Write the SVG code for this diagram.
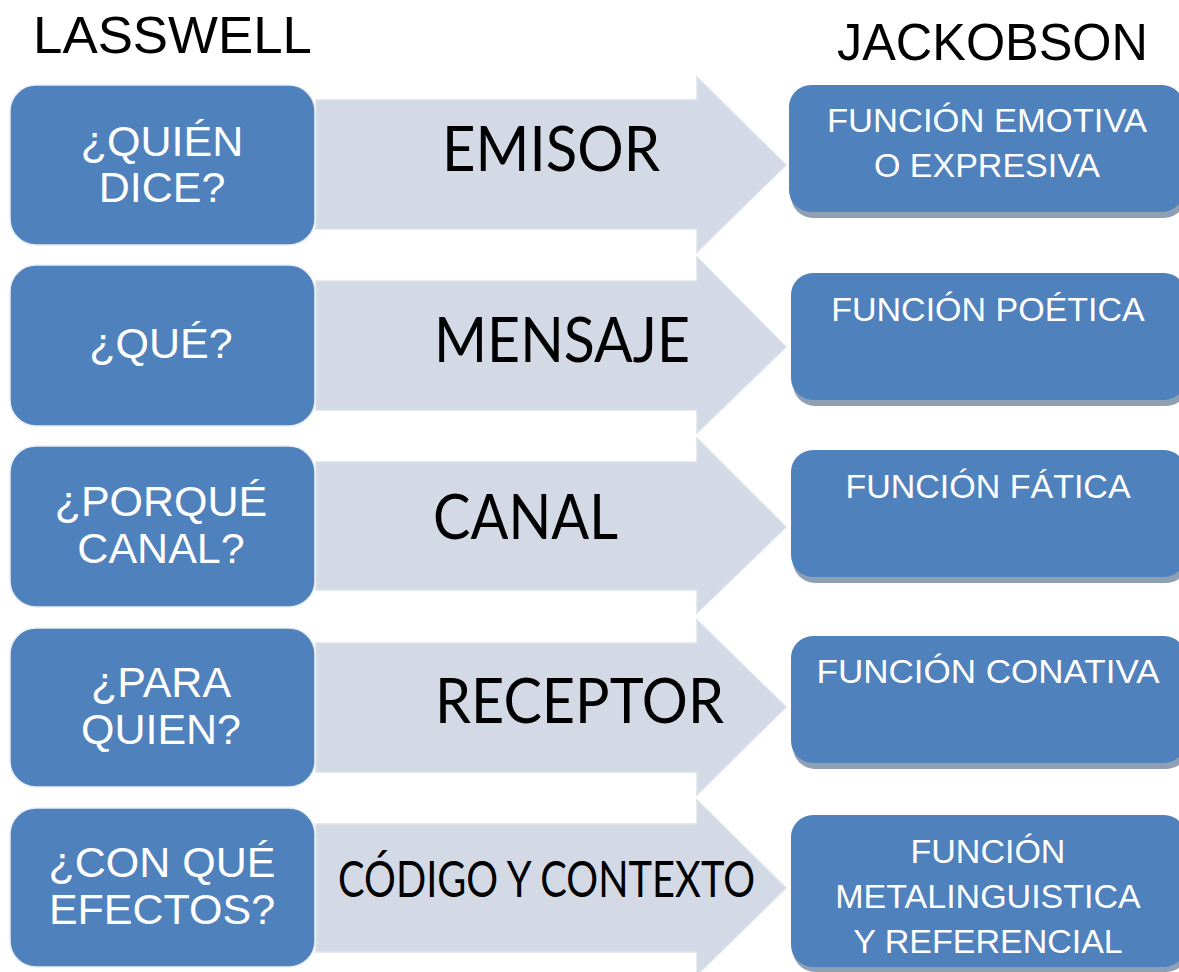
<svg xmlns="http://www.w3.org/2000/svg" width="1179" height="972" viewBox="0 0 1179 972">
<style>
.bg{fill:#ffffff}
.lbox{fill:#4F81BD;stroke:#e8eef6;stroke-width:1.5}
.rbox{fill:#4F81BD}
.shadow{fill:#8FA0B5}
.arrow{fill:#D3DAE6;stroke:#DCE2EC;stroke-width:1.5}
.title{font-family:"Liberation Sans",Arial,sans-serif;font-size:52px;fill:#000}
.ltxt{font-family:"Liberation Sans",Arial,sans-serif;font-size:43px;fill:#fff;text-anchor:middle}
.rtxt{font-family:"Liberation Sans",Arial,sans-serif;font-size:34px;fill:#fff;text-anchor:middle}
.atxt{font-family:Lato,"Open Sans",sans-serif;font-size:61px;fill:#000}
.atxt2{font-family:Lato,"Open Sans",sans-serif;font-size:50px;fill:#000}
</style>
<rect class="bg" x="0" y="0" width="1179" height="972"/>

<g id="titles">
<text class="title" x="33" y="53" textLength="279" lengthAdjust="spacingAndGlyphs">LASSWELL</text>
<text class="title" x="837" y="60" textLength="311" lengthAdjust="spacingAndGlyphs">JACKOBSON</text>
</g>

<g id="connectors">
<path class="arrow" d="M316,100 H697 V77 L786,165 L697,252 V229 H316 Z"/>
<path class="arrow" d="M316,281 H697 V257 L786,347 L697,433 V410 H316 Z"/>
<path class="arrow" d="M316,462 H697 V438 L786,527 L697,613 V590 H316 Z"/>
<path class="arrow" d="M316,643 H697 V620 L786,707 L697,795 V772 H316 Z"/>
<path class="arrow" d="M316,824 H697 V800 L786,888 L697,975 V952 H316 Z"/>
<text class="atxt" x="442" y="171" textLength="218" lengthAdjust="spacingAndGlyphs">EMISOR</text>
<text class="atxt" x="434" y="362" textLength="256" lengthAdjust="spacingAndGlyphs">MENSAJE</text>
<text class="atxt" x="433" y="539" textLength="185" lengthAdjust="spacingAndGlyphs">CANAL</text>
<text class="atxt" x="435" y="723" textLength="289" lengthAdjust="spacingAndGlyphs">RECEPTOR</text>
<text class="atxt2" x="338" y="897" textLength="417" lengthAdjust="spacingAndGlyphs">CÓDIGO Y CONTEXTO</text>
</g>

<g id="lasswell-1">
<rect class="lbox" x="10" y="85" width="305" height="160" rx="26"/>
<text class="ltxt" x="162" y="156">¿QUIÉN</text>
<text class="ltxt" x="162" y="202">DICE?</text>
</g>
<g id="lasswell-2">
<rect class="lbox" x="10" y="265" width="305" height="161" rx="26"/>
<text class="ltxt" x="161" y="358">¿QUÉ?</text>
</g>
<g id="lasswell-3">
<rect class="lbox" x="10" y="446" width="305" height="161" rx="26"/>
<text class="ltxt" x="161" y="516">¿PORQUÉ</text>
<text class="ltxt" x="161" y="563">CANAL?</text>
</g>
<g id="lasswell-4">
<rect class="lbox" x="10" y="628" width="305" height="159" rx="26"/>
<text class="ltxt" x="161" y="697">¿PARA</text>
<text class="ltxt" x="161" y="744">QUIEN?</text>
</g>
<g id="lasswell-5">
<rect class="lbox" x="10" y="808" width="305" height="159" rx="26"/>
<text class="ltxt" x="162" y="877">¿CON QUÉ</text>
<text class="ltxt" x="162" y="924">EFECTOS?</text>
</g>

<g id="jakobson-1">
<rect class="shadow" x="791" y="90" width="395" height="128" rx="22"/>
<rect class="rbox" x="789" y="85" width="395" height="127" rx="22"/>
<text class="rtxt" x="987" y="132" textLength="320" lengthAdjust="spacingAndGlyphs">FUNCIÓN EMOTIVA</text>
<text class="rtxt" x="987" y="177">O EXPRESIVA</text>
</g>
<g id="jakobson-2">
<rect class="shadow" x="793" y="278" width="395" height="128" rx="22"/>
<rect class="rbox" x="791" y="273" width="395" height="127" rx="22"/>
<text class="rtxt" x="988" y="321">FUNCIÓN POÉTICA</text>
</g>
<g id="jakobson-3">
<rect class="shadow" x="793" y="455" width="395" height="128" rx="22"/>
<rect class="rbox" x="791" y="450" width="395" height="127" rx="22"/>
<text class="rtxt" x="988" y="498">FUNCIÓN FÁTICA</text>
</g>
<g id="jakobson-4">
<rect class="shadow" x="793" y="641" width="395" height="128" rx="22"/>
<rect class="rbox" x="791" y="636" width="395" height="127" rx="22"/>
<text class="rtxt" x="988" y="683" textLength="343" lengthAdjust="spacingAndGlyphs">FUNCIÓN CONATIVA</text>
</g>
<g id="jakobson-5">
<rect class="shadow" x="793" y="820" width="395" height="152" rx="22"/>
<rect class="rbox" x="791" y="815" width="395" height="152" rx="22"/>
<text class="rtxt" x="988" y="863">FUNCIÓN</text>
<text class="rtxt" x="988" y="908">METALINGUISTICA</text>
<text class="rtxt" x="988" y="953">Y REFERENCIAL</text>
</g>
</svg>
